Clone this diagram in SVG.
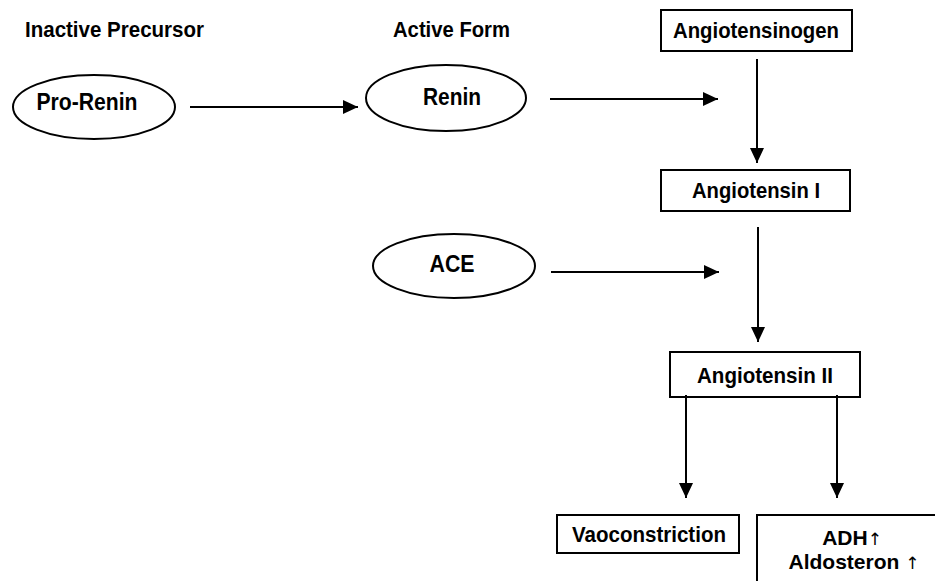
<svg xmlns="http://www.w3.org/2000/svg" width="935" height="581" viewBox="0 0 935 581">
<style>
text{font-family:"Liberation Sans",Arial,sans-serif;font-weight:bold;fill:#000;}
.hd{font-size:21.5px;}
.bx{font-size:22px;text-anchor:middle;}
.sm{font-size:21px;text-anchor:middle;}
.ar{font-family:"DejaVu Sans",sans-serif;font-weight:normal;font-size:17px;fill:#000;}
.el{font-size:23px;text-anchor:middle;}
.node rect,.node ellipse{fill:#fff;stroke:#000;stroke-width:2;}
.conn line{stroke:#000;stroke-width:2;}
</style>
<defs>
<marker id="ah" markerUnits="userSpaceOnUse" markerWidth="16" markerHeight="14" refX="15" refY="7" orient="auto">
<path d="M0,0 L15,7 L0,14 z" fill="#000"/>
</marker>
</defs>
<rect width="935" height="581" fill="#fff"/>
<text class="hd" x="25" y="37" textLength="179" lengthAdjust="spacingAndGlyphs">Inactive Precursor</text>
<text class="hd" x="393" y="37" textLength="117" lengthAdjust="spacingAndGlyphs">Active Form</text>
<g id="pro-renin" class="node">
<ellipse cx="94" cy="107" rx="81" ry="32"/>
<text class="el" x="87" y="110" textLength="101" lengthAdjust="spacingAndGlyphs">Pro-Renin</text>
</g>
<g id="renin" class="node">
<ellipse cx="446" cy="98" rx="80" ry="33"/>
<text class="el" x="452" y="105" textLength="58" lengthAdjust="spacingAndGlyphs">Renin</text>
</g>
<g id="ace" class="node">
<ellipse cx="454" cy="266" rx="81" ry="32"/>
<text class="el" x="452" y="272" textLength="45" lengthAdjust="spacingAndGlyphs">ACE</text>
</g>
<g id="angiotensinogen" class="node">
<rect x="661" y="10" width="191" height="41"/>
<text class="bx" x="756" y="38" textLength="166" lengthAdjust="spacingAndGlyphs">Angiotensinogen</text>
</g>
<g id="angiotensin1" class="node">
<rect x="661" y="170" width="189" height="41"/>
<text class="bx" x="756" y="198" textLength="128" lengthAdjust="spacingAndGlyphs">Angiotensin I</text>
</g>
<g id="angiotensin2" class="node">
<rect x="670" y="352" width="190" height="45"/>
<text class="bx" x="765" y="383" textLength="136" lengthAdjust="spacingAndGlyphs">Angiotensin II</text>
</g>
<g id="vasoconstriction" class="node">
<rect x="557" y="515" width="182" height="38"/>
<text class="bx" x="649" y="542" textLength="154" lengthAdjust="spacingAndGlyphs">Vaoconstriction</text>
</g>
<g id="adh" class="node">
<rect x="757" y="515" width="194" height="80"/>
<text class="sm" x="852" y="545">ADH<tspan class="ar">↑</tspan></text>
<text class="sm" x="854" y="569">Aldosteron <tspan class="ar">↑</tspan></text>
</g>
<g id="connectors" class="conn">
<line x1="190" y1="107" x2="358" y2="107" marker-end="url(#ah)"/>
<line x1="550" y1="99" x2="718" y2="99" marker-end="url(#ah)"/>
<line x1="757" y1="59" x2="757" y2="163" marker-end="url(#ah)"/>
<line x1="758" y1="227" x2="758" y2="342" marker-end="url(#ah)"/>
<line x1="551" y1="272" x2="719" y2="272" marker-end="url(#ah)"/>
<line x1="686" y1="395" x2="686" y2="498" marker-end="url(#ah)"/>
<line x1="837" y1="395" x2="837" y2="498" marker-end="url(#ah)"/>
</g>
</svg>
